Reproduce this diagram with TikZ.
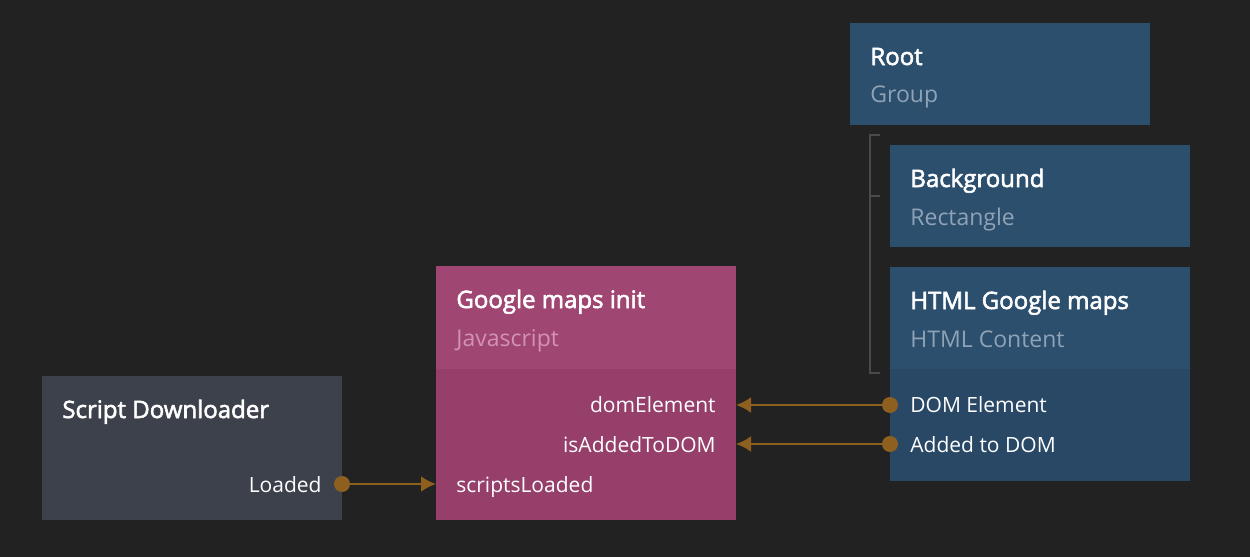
\documentclass[tikz,border=0pt]{standalone}
\usepackage{fontspec}
\setmainfont{Open Sans}
\newfontfamily\semibold[FakeBold=2.4]{Open Sans}
\usepackage{tikz}
\usetikzlibrary{arrows.meta}
\tikzset{>={Latex[length=7.5pt,width=8pt]}}
\definecolor{bgdark}{HTML}{222222}
\definecolor{myblue}{HTML}{2C4F6E}
\definecolor{mybluelow}{HTML}{284866}
\definecolor{mypink}{HTML}{A04673}
\definecolor{mypinklow}{HTML}{963F6B}
\definecolor{mygrey}{HTML}{3D414B}
\definecolor{wire}{HTML}{8E601F}
\definecolor{subblue}{HTML}{8FA3B6}
\definecolor{subpink}{HTML}{D293B3}
\definecolor{treeline}{HTML}{4A4A4A}
\tikzset{
	box/.style={anchor=north west,inner sep=0pt,minimum width=150pt},
	title/.style={anchor=base west,inner sep=0pt,text=white,font=\fontsize{12}{14}\semibold},
	subtitle/.style={anchor=base west,inner sep=0pt,font=\fontsize{11.5}{14}\selectfont},
	port/.style={inner sep=0pt,text=white,font=\fontsize{10.5}{13}\selectfont},
	wirearrow/.style={->,wire,line width=1.2pt},
}

\begin{document}
\begin{tikzpicture}[x=0.5pt,y=-0.5pt]
		\fill[bgdark] (0,0) rectangle (1250,557);
		\useasboundingbox (0,0) rectangle (1250,557);

		% group tree
		\draw[treeline,line width=0.8pt] (880,135) -- (870,135) -- (870,373) -- (880,373);
		\draw[treeline,line width=0.8pt] (870,196) -- (880,196);

		% Root
		\node[box,fill=myblue,minimum height=51pt] (root) at (850,23) {};
		\node[title] (roottitle) at (870,65) {Root};
		\node[subtitle,text=subblue] (rootsub) at (870,103) {Group};

		% Background
		\node[box,fill=myblue,minimum height=51pt] (bg) at (890,145) {};
		\node[title] (bgtitle) at (910,187) {Background};
		\node[subtitle,text=subblue] (bgsub) at (910,225) {Rectangle};

		% HTML Google maps
		\node[box,fill=myblue,minimum height=51pt] (html) at (890,267) {};
		\node[box,fill=mybluelow,minimum height=56pt] (htmlports) at (890,369) {};
		\node[title] (htmltitle) at (910,309) {HTML Google maps};
		\node[subtitle,text=subblue] (htmlsub) at (910,347) {HTML Content};
		\node[port,anchor=base west] (domout) at (910,412) {DOM Element};
		\node[port,anchor=base west] (addedout) at (910,452) {Added to DOM};
		\coordinate (domdot) at (890,405);
		\coordinate (addeddot) at (890,444);

		% Google maps init
		\node[box,fill=mypink,minimum height=51.5pt] (js) at (436,266) {};
		\node[box,fill=mypinklow,minimum height=75.5pt] (jsports) at (436,369) {};
		\node[title] (jstitle) at (456,308) {Google maps init};
		\node[subtitle,text=subpink] (jssub) at (456,346) {Javascript};
		\node[port,anchor=base east] (domin) at (716,412) {domElement};
		\node[port,anchor=base east] (addedin) at (716,452) {isAddedToDOM};
		\node[port,anchor=base west] (loadedin) at (456,492) {scriptsLoaded};
		\coordinate (dompin) at (736,405);
		\coordinate (addedpin) at (736,444);
		\coordinate (loadedpin) at (436,484);

		% Script Downloader
		\node[box,fill=mygrey,minimum height=72pt] (dl) at (42,376) {};
		\node[title] (dltitle) at (62,418) {Script Downloader};
		\node[port,anchor=base east] (loadedout) at (322,492) {Loaded};
		\coordinate (loadeddot) at (342,484);

		% connections
		\draw[wirearrow] (domdot) -- (dompin);
		\draw[wirearrow] (addeddot) -- (addedpin);
		\draw[wirearrow] (loadeddot) -- (loadedpin);
		\fill[wire] (domdot) circle (8) (addeddot) circle (8) (loadeddot) circle (8);
	\end{tikzpicture}
\end{document}
